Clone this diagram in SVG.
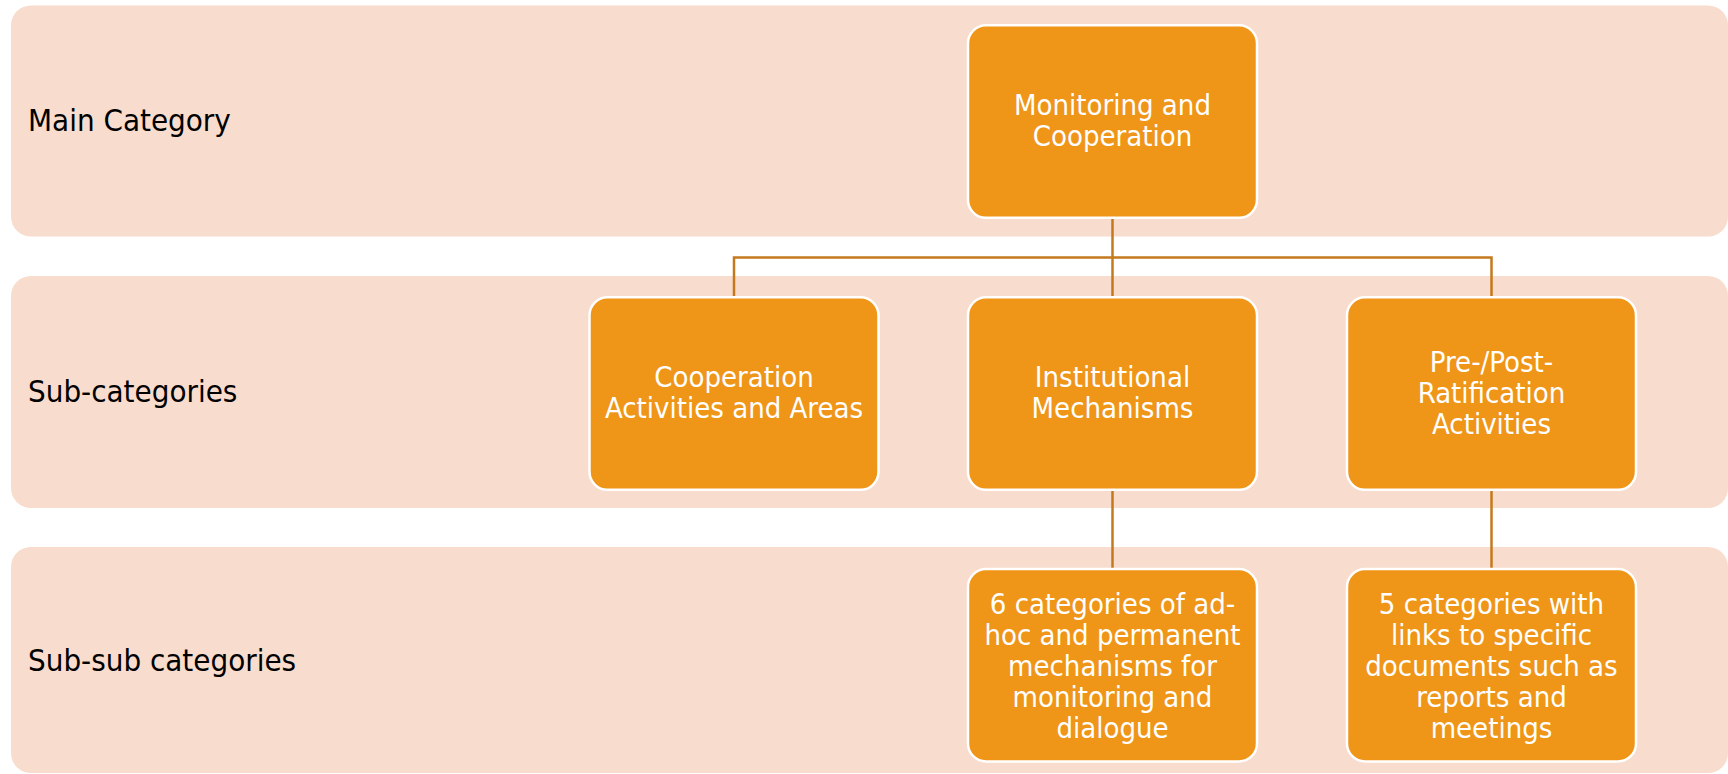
<svg xmlns="http://www.w3.org/2000/svg" width="1728" height="774" viewBox="0 0 1728 774">
<style>
.band{fill:#F8DCCD;}
.box{fill:#EF9518;stroke:#FFFFFF;stroke-width:2.5;}
.lbl{font-family:"DejaVu Sans Condensed","DejaVu Sans",sans-serif;font-stretch:semi-condensed;font-size:31px;fill:#000000;}
.txt{font-family:"DejaVu Sans Condensed","DejaVu Sans",sans-serif;font-stretch:semi-condensed;font-size:29px;fill:#FFFFFF;text-anchor:middle;}
.con{fill:none;stroke:#C47A1C;stroke-width:2.5;}
</style>
<rect width="1728" height="774" fill="#FFFFFF"/>
<g id="bands">
<g id="band-main"><rect class="band" x="11" y="5.5" width="1717" height="231" rx="20"/><text class="lbl" x="28" y="131">Main Category</text></g>
<g id="band-sub"><rect class="band" x="11" y="276" width="1717" height="232" rx="20"/><text class="lbl" x="28" y="402">Sub-categories</text></g>
<g id="band-subsub"><rect class="band" x="11" y="547" width="1717" height="226" rx="20"/><text class="lbl" x="28" y="671">Sub-sub categories</text></g>
</g>
<g id="connectors">
<path class="con" d="M1112.5 219 V296"/>
<path class="con" d="M734 296 V257.5 H1491.5 V296"/>
<path class="con" d="M1112.5 491 V568"/>
<path class="con" d="M1491.5 491 V568"/>
</g>
<g id="root">
<rect class="box" x="968" y="25.3" width="289" height="192.5" rx="18"/>
<text class="txt" x="1112.5" y="115">Monitoring and</text>
<text class="txt" x="1112.5" y="146.2">Cooperation</text>
</g>
<g id="coop">
<rect class="box" x="589.5" y="297.3" width="289" height="192.5" rx="18"/>
<text class="txt" x="734" y="387">Cooperation</text>
<text class="txt" x="734" y="418.2">Activities and Areas</text>
</g>
<g id="inst">
<rect class="box" x="968" y="297.3" width="289" height="192.5" rx="18"/>
<text class="txt" x="1112.5" y="387">Institutional</text>
<text class="txt" x="1112.5" y="418.2">Mechanisms</text>
</g>
<g id="ratif">
<rect class="box" x="1347" y="297.3" width="289" height="192.5" rx="18"/>
<text class="txt" x="1491.5" y="371.5">Pre-/Post-</text>
<text class="txt" x="1491.5" y="402.7">Ratification</text>
<text class="txt" x="1491.5" y="433.9">Activities</text>
</g>
<g id="inst-sub">
<rect class="box" x="968" y="569" width="289" height="192.5" rx="18"/>
<text class="txt" x="1112.5" y="613.5">6 categories of ad-</text>
<text class="txt" x="1112.5" y="644.5">hoc and permanent</text>
<text class="txt" x="1112.5" y="675.5">mechanisms for</text>
<text class="txt" x="1112.5" y="706.5">monitoring and</text>
<text class="txt" x="1112.5" y="737.5">dialogue</text>
</g>
<g id="ratif-sub">
<rect class="box" x="1347" y="569" width="289" height="192.5" rx="18"/>
<text class="txt" x="1491.5" y="613.5">5 categories with</text>
<text class="txt" x="1491.5" y="644.5">links to specific</text>
<text class="txt" x="1491.5" y="675.5">documents such as</text>
<text class="txt" x="1491.5" y="706.5">reports and</text>
<text class="txt" x="1491.5" y="737.5">meetings</text>
</g>
</svg>
